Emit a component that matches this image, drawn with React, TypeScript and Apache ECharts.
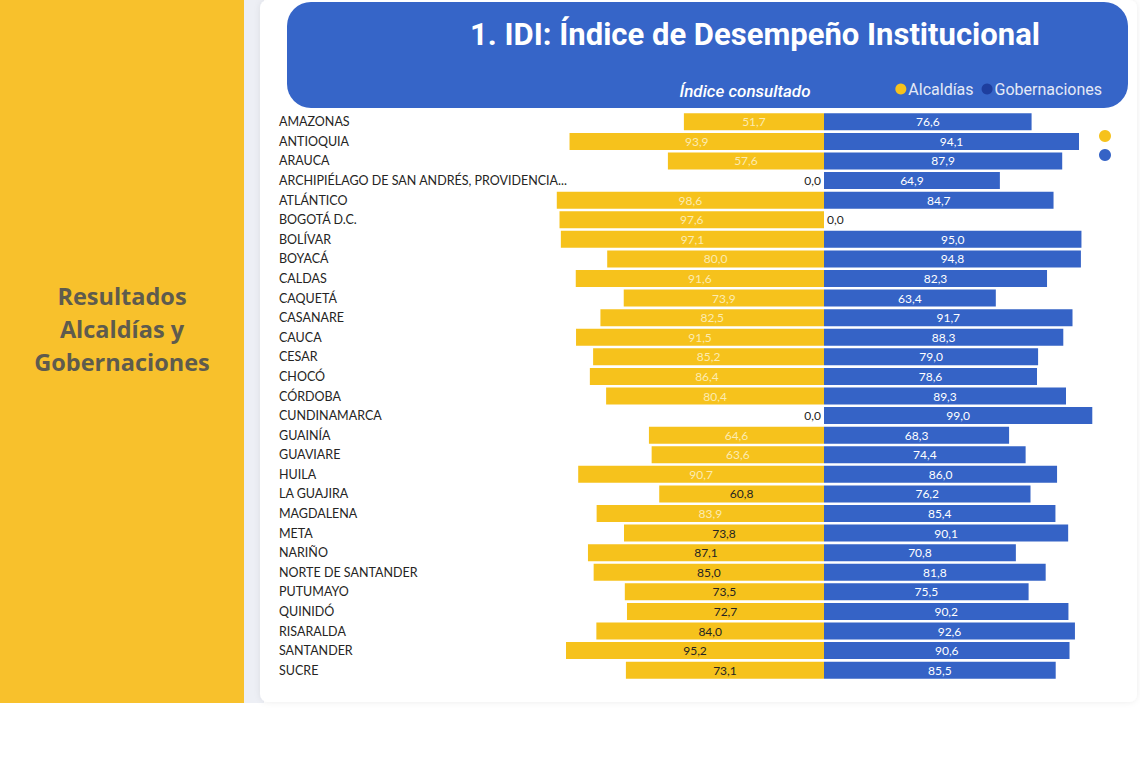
import React, { useEffect, useRef } from "react";
import * as echarts from "echarts";

const departamentos = [
  "AMAZONAS", "ANTIOQUIA", "ARAUCA", "ARCHIPIÉLAGO DE SAN ANDRÉS, PROVIDENCIA...", "ATLÁNTICO",
  "BOGOTÁ D.C.", "BOLÍVAR", "BOYACÁ", "CALDAS", "CAQUETÁ", "CASANARE", "CAUCA", "CESAR",
  "CHOCÓ", "CÓRDOBA", "CUNDINAMARCA", "GUAINÍA", "GUAVIARE", "HUILA", "LA GUAJIRA",
  "MAGDALENA", "META", "NARIÑO", "NORTE DE SANTANDER", "PUTUMAYO", "QUINIDÓ", "RISARALDA",
  "SANTANDER", "SUCRE",
];

const alcaldias = [
  51.7, 93.9, 57.6, 0.0, 98.6, 97.6, 97.1, 80.0, 91.6, 73.9, 82.5, 91.5, 85.2, 86.4, 80.4,
  0.0, 64.6, 63.6, 90.7, 60.8, 83.9, 73.8, 87.1, 85.0, 73.5, 72.7, 84.0, 95.2, 73.1,
];

const gobernaciones = [
  76.6, 94.1, 87.9, 64.9, 84.7, 0.0, 95.0, 94.8, 82.3, 63.4, 91.7, 88.3, 79.0, 78.6, 89.3,
  99.0, 68.3, 74.4, 86.0, 76.2, 85.4, 90.1, 70.8, 81.8, 75.5, 90.2, 92.6, 90.6, 85.5,
];

const titulo = "1. IDI: Índice de Desempeño Institucional";
const subtitulo = "Índice consultado";
const panelTexto = "Resultados\nAlcaldías y\nGobernaciones";
const serieAlc = "Alcaldías";
const serieGob = "Gobernaciones";

// rows whose Alcaldías label is drawn dark in the reference
const darkAlcLabels = new Set([
  "LA GUAJIRA", "META", "NARIÑO", "NORTE DE SANTANDER", "PUTUMAYO", "QUINIDÓ",
  "RISARALDA", "SANTANDER", "SUCRE",
]);

const YELLOW = "#F6C21C";
const BLUE = "#3563C6";
const FONT = "Lato";

const fmt = (v: number) => Math.abs(v).toFixed(1).replace(".", ",");

export default function App() {
  const ref = useRef<HTMLDivElement>(null);
  useEffect(() => {
    if (!ref.current) return;
    const chart = echarts.init(ref.current, undefined, { renderer: "svg" });
    chart.setOption({
      animation: false,
      backgroundColor: "#ffffff",
      textStyle: { fontFamily: FONT },
      graphic: [
        { type: "rect", z: -10, shape: { x: 0, y: 0, width: 244, height: 703 }, style: { fill: "#F8C12C" } },
        { type: "rect", z: -10, shape: { x: 244, y: 0, width: 20, height: 703 }, style: { fill: "#EDEFF5" } },
        {
          type: "rect", z: -9,
          shape: { x: 260, y: 0, width: 877, height: 702, r: 8 },
          style: { fill: "#ffffff", shadowBlur: 6, shadowColor: "rgba(0,0,0,0.08)" },
        },
        {
          type: "rect", z: -8,
          shape: { x: 287, y: 2, width: 841, height: 106, r: 24 },
          style: { fill: "#3665C8" },
        },
        {
          type: "text", z: 10, x: 755, y: 19,
          style: { text: titulo, fill: "#ffffff", font: "bold 31px Roboto", textAlign: "center" },
        },
        {
          type: "text", z: 10, x: 745, y: 82,
          style: { text: subtitulo, fill: "#ffffff", font: "italic 500 17px Roboto", textAlign: "center" },
        },
        {
          type: "text", z: 10, x: 122, y: 279,
          style: {
            text: panelTexto, fill: "#5E5B4E", font: "bold 23.5px 'Open Sans'",
            textAlign: "center", lineHeight: 33,
          },
        },
        { type: "circle", z: 10, shape: { cx: 1105, cy: 136, r: 6 }, style: { fill: YELLOW } },
        { type: "circle", z: 10, shape: { cx: 1105, cy: 155, r: 6 }, style: { fill: BLUE } },
      ],
      legend: {
        right: 33,
        top: 76,
        icon: "circle",
        itemWidth: 11,
        itemHeight: 11,
        itemGap: 8,
        textStyle: { color: "#E4E9F6", fontSize: 16, fontFamily: "Roboto", padding: [0, 0, 0, -3] },
        data: [
          { name: serieAlc, itemStyle: { color: YELLOW } },
          { name: serieGob, itemStyle: { color: "#1E3E9E" } },
        ],
      },
      grid: { left: 553, right: 45, top: 112, bottom: 80 },
      xAxis: {
        type: "value",
        min: -100,
        max: 100,
        show: false,
      },
      yAxis: {
        type: "category",
        inverse: true,
        data: departamentos,
        axisLine: { show: false },
        axisTick: { show: false },
        axisLabel: {
          align: "left",
          margin: 274,
          color: "#252423",
          fontSize: 12.5,
          fontFamily: FONT,
        },
      },
      series: [
        {
          name: serieAlc,
          type: "bar",
          barWidth: 17,
          barGap: "-100%",
          itemStyle: { color: YELLOW },
          data: alcaldias.map((v, i) => {
            const zero = v === 0;
            return {
              value: -v,
              label: {
                position: zero ? "left" : "inside",
                color: zero || darkAlcLabels.has(departamentos[i]) ? "#252423" : "#FCEBB0",
              },
            };
          }),
          label: {
            show: true,
            fontSize: 12,
            fontFamily: FONT,
            distance: 3,
            formatter: (p: any) => fmt(p.value),
          },
        },
        {
          name: serieGob,
          type: "bar",
          barWidth: 17,
          itemStyle: { color: BLUE },
          data: gobernaciones.map((v) => {
            const zero = v === 0;
            return {
              value: v,
              label: {
                position: zero ? "right" : "inside",
                color: zero ? "#252423" : "#ffffff",
              },
            };
          }),
          label: {
            show: true,
            fontSize: 12,
            fontFamily: FONT,
            distance: 3,
            formatter: (p: any) => fmt(p.value),
          },
        },
      ],
    });
    return () => chart.dispose();
  }, []);
  return (
    <div
      ref={ref}
      style={{ position: "fixed", left: 0, top: 0, width: 1140, height: 760 }}
    />
  );
}
